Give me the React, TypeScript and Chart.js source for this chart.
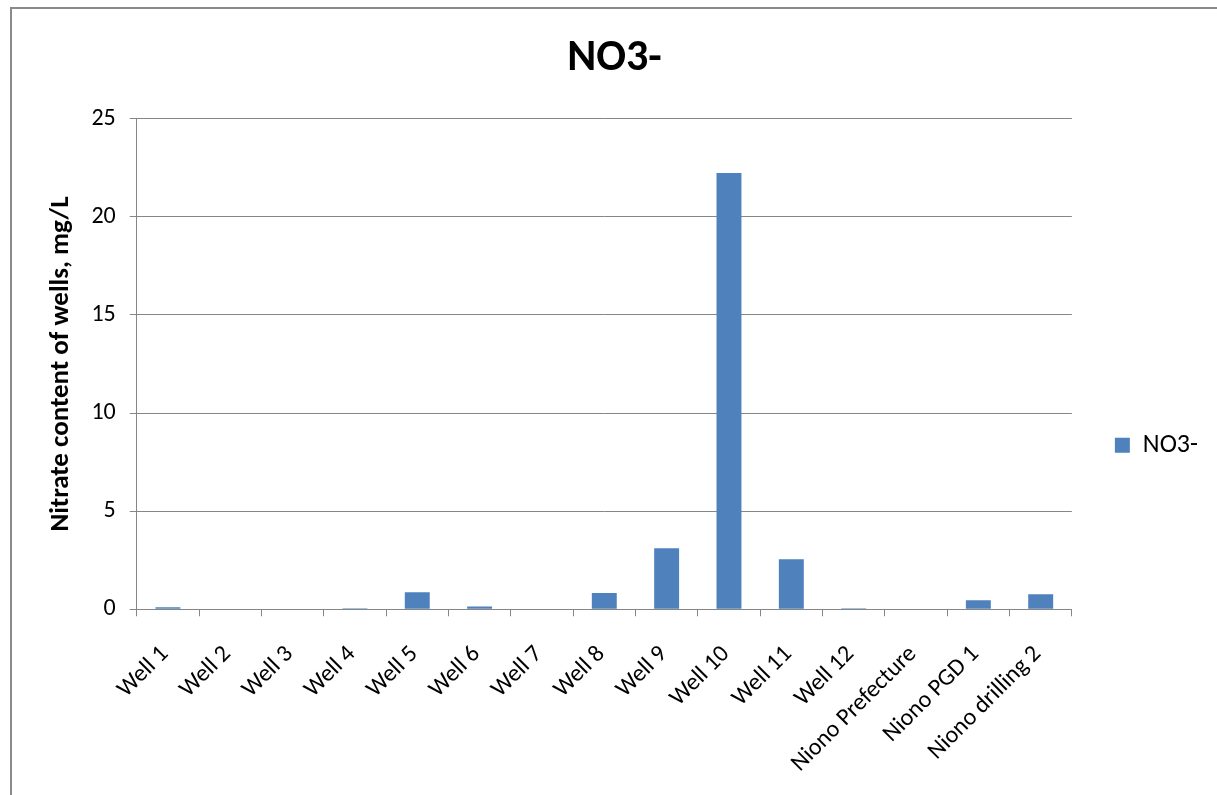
import React, { useEffect, useRef } from "react";
import { Chart, registerables } from "chart.js";

Chart.register(...registerables);

const categories = [
  "Well 1",
  "Well 2",
  "Well 3",
  "Well 4",
  "Well 5",
  "Well 6",
  "Well 7",
  "Well 8",
  "Well 9",
  "Well 10",
  "Well 11",
  "Well 12",
  "Niono Prefecture",
  "Niono PGD 1",
  "Niono drilling 2",
];
const no3Values = [0.1, 0, 0, 0.05, 0.87, 0.14, 0, 0.83, 3.11, 22.24, 2.55, 0.05, 0, 0.46, 0.77];
const seriesName = "NO3-";
const chartTitle = "NO3-";
const yAxisTitle = "Nitrate content of wells, mg/L";
const yMin = 0;
const yMax = 25;
const yStep = 5;

const FONT = "Carlito, Lato, 'Open Sans', sans-serif";
const GRID = "#868686";
const BAR = "#4F81BD";

// centres the title on the whole canvas and moves the legend item down to match the reference
const blockPlacer = {
  id: "blockPlacer",
  afterLayout(chart: any) {
    const t = chart.titleBlock;
    if (t) {
      t.left = 0;
      t.right = chart.width;
    }
    const l = chart.legend;
    if (l) {
      const target = chart.height * 0.555;
      const d = target - (l.top + l.bottom) / 2;
      l.top += d;
      l.bottom += d;
    }
  },
};

export default function App() {
  const canvasRef = useRef<HTMLCanvasElement | null>(null);

  useEffect(() => {
    const canvas = canvasRef.current;
    if (!canvas) return;
    const chart = new Chart(canvas, {
      type: "bar",
      data: {
        labels: categories,
        datasets: [
          {
            label: seriesName,
            data: no3Values,
            backgroundColor: BAR,
            borderWidth: 0,
            barPercentage: 0.4,
            categoryPercentage: 1,
          },
        ],
      },
      plugins: [blockPlacer],
      options: {
        responsive: false,
        animation: false,
        layout: { padding: { left: 33, right: 9, top: 0, bottom: 1 } },
        plugins: {
          title: {
            display: true,
            text: chartTitle,
            color: "#000",
            font: { family: FONT, size: 44, weight: "bold" },
            padding: { top: 24, bottom: 33 },
          },
          legend: {
            position: "right",
            labels: {
              boxWidth: 15,
              boxHeight: 15,
              color: "#000",
              font: { family: FONT, size: 26 },
              padding: 43,
            },
          },
          tooltip: { enabled: false },
        },
        scales: {
          x: {
            offset: true,
            afterFit(scale: any) {
              scale.height = scale.height - 8;
            },
            grid: {
              display: true,
              offset: true,
              drawOnChartArea: false,
              drawTicks: true,
              tickLength: 7,
              color: GRID,
            },
            border: { color: GRID },
            ticks: {
              color: "#000",
              font: { family: FONT, size: 24 },
              minRotation: 45,
              maxRotation: 45,
              autoSkip: false,
              labelOffset: -3,
              padding: 24,
            },
          },
          y: {
            min: yMin,
            max: yMax,
            grid: { color: GRID, tickLength: 7 },
            border: { color: GRID },
            ticks: {
              stepSize: yStep,
              color: "#000",
              font: { family: FONT, size: 24 },
              padding: 14,
            },
            title: {
              display: true,
              text: yAxisTitle,
              color: "#000",
              font: { family: FONT, size: 27, weight: "bold" },
              padding: { top: 0, bottom: 0 },
            },
          },
        },
      },
    });
    return () => chart.destroy();
  }, []);

  return (
    <div
      style={{
        position: "absolute",
        left: 10,
        top: 7,
        width: 1207,
        height: 788,
        boxSizing: "border-box",
        borderTop: "2px solid #8a8a8a",
        borderLeft: "2px solid #8a8a8a",
        overflow: "hidden",
        background: "#fff",
      }}
    >
      <canvas ref={canvasRef} width={1205} height={786} style={{ display: "block" }} />
    </div>
  );
}
